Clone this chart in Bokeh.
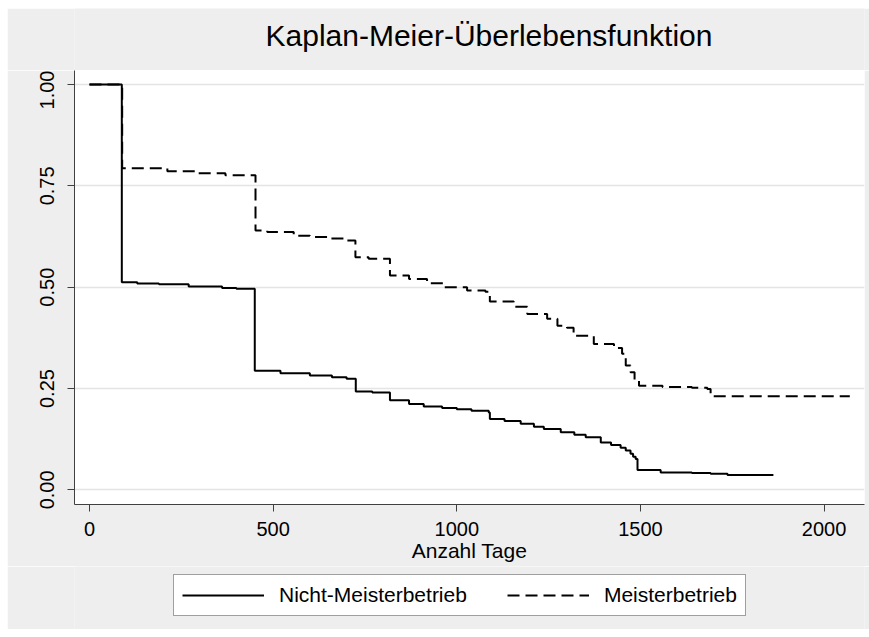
from bokeh.plotting import figure
from bokeh.layouts import column
from bokeh.models import Range1d, FixedTicker, PrintfTickFormatter, Legend, LegendItem, Label
from bokeh.embed import file_html
from bokeh.resources import INLINE

# Kaplan-Meier estimates
nicht_t = [0, 88, 130, 189, 270, 361, 400, 450, 520, 600, 660, 700, 725, 770, 818, 870,
           910, 960, 1000, 1040, 1087, 1090, 1130, 1174, 1210, 1237, 1283, 1320, 1351,
           1392, 1420, 1446, 1460, 1473, 1480, 1487, 1492, 1555, 1640, 1691, 1737, 1862]
nicht_s = [1.000, 0.512, 0.509, 0.507, 0.502, 0.498, 0.496, 0.294, 0.288, 0.282, 0.278,
           0.274, 0.243, 0.240, 0.221, 0.212, 0.206, 0.202, 0.199, 0.195, 0.191, 0.175,
           0.170, 0.163, 0.156, 0.150, 0.142, 0.136, 0.130, 0.117, 0.111, 0.104, 0.097,
           0.089, 0.082, 0.076, 0.049, 0.043, 0.042, 0.040, 0.037, 0.037]

meister_t = [0, 89, 212, 293, 370, 452, 484, 556, 600, 650, 702, 724, 760, 818, 870, 919,
             965, 1028, 1078, 1090, 1155, 1192, 1246, 1274, 1300, 1318, 1373, 1428, 1450,
             1460, 1473, 1484, 1496, 1560, 1640, 1682, 1691, 2070]
meister_s = [1.000, 0.7935, 0.786, 0.781, 0.776, 0.640, 0.636, 0.627, 0.624, 0.620, 0.615,
             0.574, 0.570, 0.529, 0.520, 0.510, 0.500, 0.492, 0.489, 0.465, 0.452, 0.434,
             0.422, 0.405, 0.400, 0.380, 0.360, 0.350, 0.336, 0.307, 0.290, 0.270, 0.257,
             0.254, 0.252, 0.249, 0.231, 0.231]

x_ticks = [0, 500, 1000, 1500, 2000]
y_ticks = [0.0, 0.25, 0.5, 0.75, 1.0]
series_labels = ["Nicht-Meisterbetrieb", "Meisterbetrieb"]
title_text = "Kaplan-Meier-\u00dcberlebensfunktion"
x_label = "Anzahl Tage"

FONT = "Liberation Sans"
BG = "#eeeeee"


def strip(h):
    f = figure(width=862, height=h, output_backend="svg", toolbar_location=None,
               x_range=Range1d(-20, -10), y_range=Range1d(0, 1),
               x_axis_location=None, y_axis_location=None,
               min_border_left=67, min_border_right=5, min_border_top=0, min_border_bottom=0)
    f.grid.visible = False
    f.outline_line_color = None
    f.background_fill_color = BG
    f.border_fill_color = BG
    return f


# title strip
p0 = strip(62)
p0.add_layout(Label(x=191, y=35, x_units="screen", y_units="screen", text=title_text,
                    text_font=FONT, text_font_size="30px", text_color="#000000",
                    text_baseline="alphabetic", text_align="left"))

# main chart
p = figure(frame_width=790, frame_height=434, output_backend="svg", toolbar_location=None,
           x_range=Range1d(-40.8, 2110), y_range=Range1d(-0.036, 1.0345),
           min_border_left=67, min_border_right=5, min_border_top=0, min_border_bottom=62)
p.background_fill_color = "white"
p.border_fill_color = BG
p.outline_line_color = None

p.step(nicht_t, nicht_s, mode="after", line_color="black", line_width=2)
p.step(meister_t, meister_s, mode="after", line_color="black", line_width=2,
       line_dash="12 6")

p.xgrid.visible = False
p.ygrid.grid_line_color = "#e4e4e4"
p.ygrid.grid_line_width = 1.5

for ax in (p.xaxis[0], p.yaxis[0]):
    ax.axis_line_color = "#404040"
    ax.axis_line_width = 1
    ax.major_tick_line_color = "#404040"
    ax.major_tick_out = 7
    ax.major_tick_in = 0
    ax.minor_tick_line_color = None
    ax.major_label_text_font = FONT
    ax.major_label_text_font_size = "20px"
    ax.major_label_text_color = "#000000"

p.xaxis.ticker = FixedTicker(ticks=x_ticks)
p.xaxis.major_label_standoff = 10
p.xaxis.axis_label = x_label
p.xaxis.axis_label_text_font = FONT
p.xaxis.axis_label_text_font_size = "21px"
p.xaxis.axis_label_text_font_style = "normal"
p.xaxis.axis_label_text_color = "#000000"
p.xaxis.axis_label_standoff = 0

p.yaxis.ticker = FixedTicker(ticks=y_ticks)
p.yaxis.formatter = PrintfTickFormatter(format="%.2f")
p.yaxis.major_label_orientation = "vertical"
p.yaxis.major_label_standoff = 13

# legend strip (legend keys use the same series, drawn off-range)
p2 = strip(63)
k1 = p2.line(x=nicht_t, y=nicht_s, line_color="black", line_width=2)
k2 = p2.line(x=meister_t, y=meister_s, line_color="black", line_width=2, line_dash="12 6")

legend = Legend(items=[LegendItem(label=series_labels[0], renderers=[k1]),
                       LegendItem(label=series_labels[1], renderers=[k2])],
                orientation="horizontal", location=(99, 13))
legend.label_text_font = FONT
legend.label_text_font_size = "21px"
legend.label_text_color = "#000000"
legend.glyph_width = 82
legend.glyph_height = 20
legend.label_height = 20
legend.label_standoff = 15
legend.spacing = 40
legend.padding = 8
legend.margin = 0
legend.border_line_color = "#404040"
legend.border_line_width = 1
legend.background_fill_color = "white"
legend.background_fill_alpha = 1
p2.add_layout(legend, "center")

layout = column(p0, p, p2, spacing=0, margin=(8, 0, 8, 7))
open("out.html", "w").write(file_html(layout, INLINE))
